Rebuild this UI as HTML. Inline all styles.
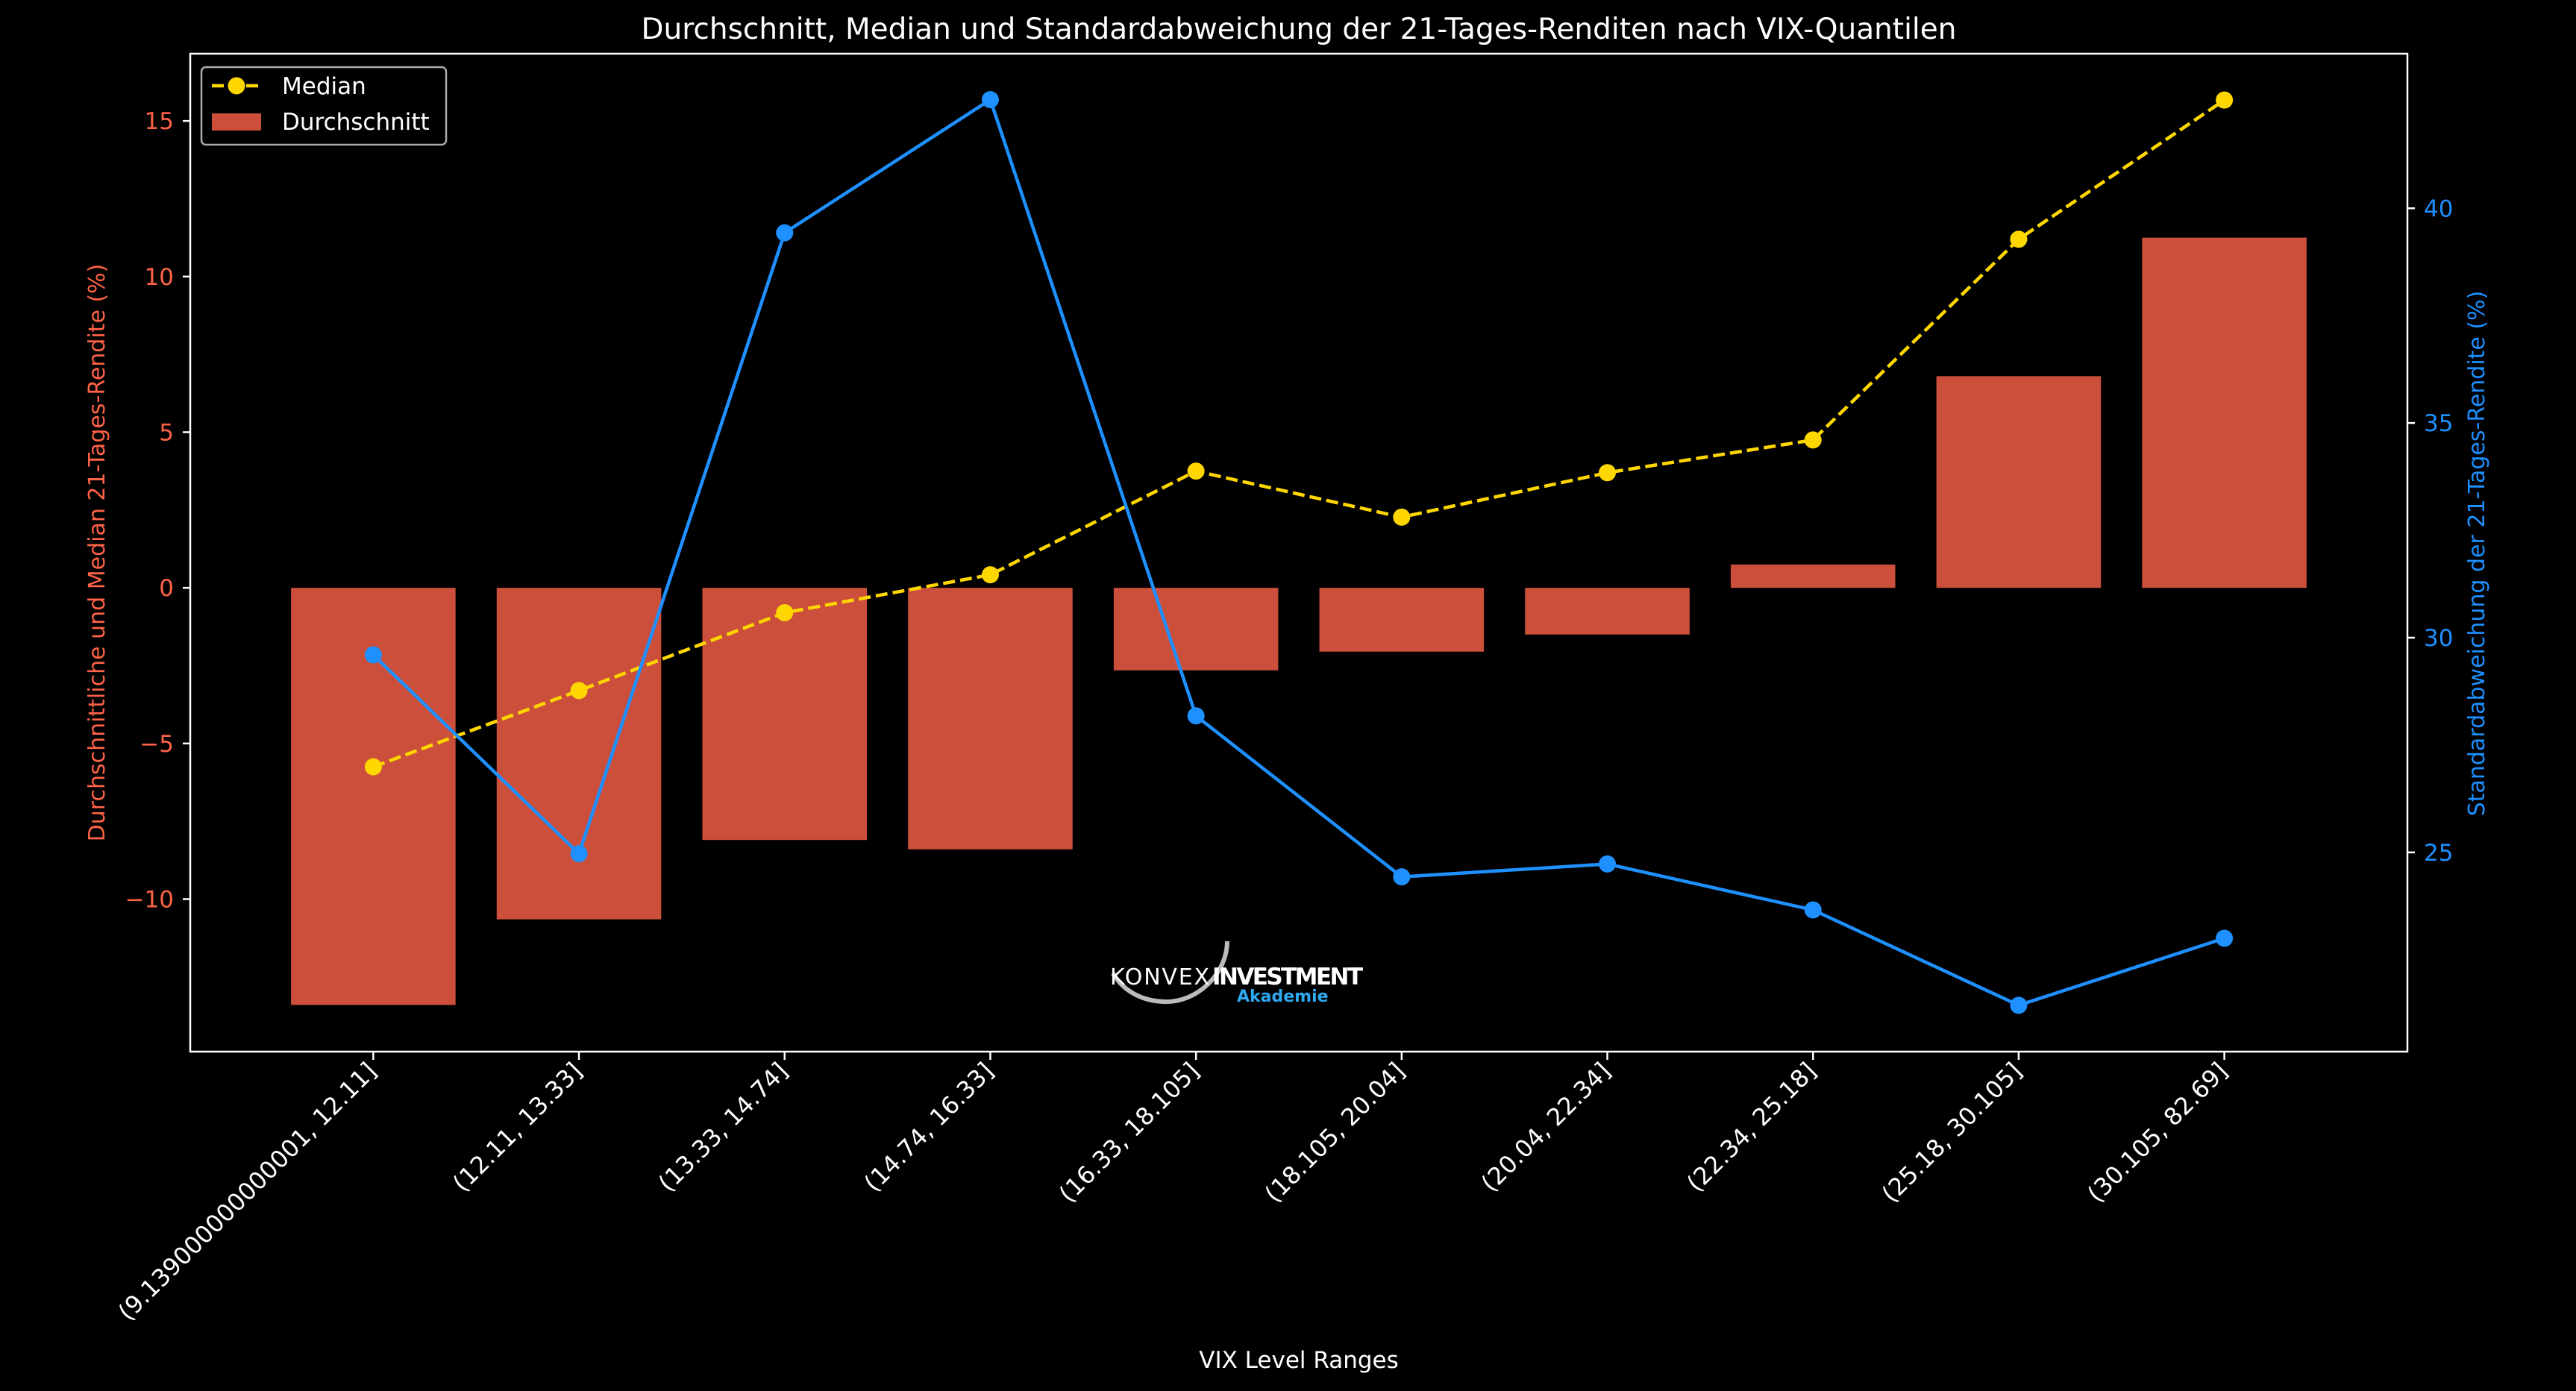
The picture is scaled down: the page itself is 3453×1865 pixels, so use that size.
<!DOCTYPE html>
<html><head><meta charset="utf-8"><style>
html,body{margin:0;padding:0;background:#000;width:3453px;height:1865px;overflow:hidden}
text{font-family:"DejaVu Sans","Liberation Sans",sans-serif}
</style></head><body>
<svg id="chart" width="3453" height="1865" xmlns="http://www.w3.org/2000/svg">
<rect width="3453" height="1865" fill="#000"/>
<text x="1741" y="52" font-size="39" fill="#fff" text-anchor="middle">Durchschnitt, Median und Standardabweichung der 21-Tages-Renditen nach VIX-Quantilen</text>
<g id="plot"></g>
<text transform="translate(140,741) rotate(-90)" font-size="30" fill="#ff6347" text-anchor="middle">Durchschnittliche und Median 21-Tages-Rendite (%)</text>
<text transform="translate(3330,742) rotate(-90)" font-size="30" fill="#1e90ff" text-anchor="middle">Standardabweichung der 21-Tages-Rendite (%)</text>
<text x="1741" y="1834" font-size="31" fill="#fff" text-anchor="middle">VIX Level Ranges</text>
<g>
<path d="M1645 1262 C1645 1305 1605 1345 1560 1343 C1530 1342 1505 1328 1492 1305" stroke="#bbb" stroke-width="6" fill="none"/>
<text x="1488" y="1320" font-size="30" fill="#fff" font-family="Liberation Sans" textLength="133">KONVEX</text>
<text x="1625" y="1320" font-size="31" fill="#fff" font-weight="bold" font-family="Liberation Sans" textLength="202">INVESTMENT</text>
<text x="1658" y="1343" font-size="22" fill="#2ea8f0" font-weight="bold" font-family="Liberation Sans">Akademie</text>
</g>
<g>
<rect x="270" y="90" width="328" height="104" rx="6" fill="#000" stroke="#aaa" stroke-width="2.5"/>
<line x1="284" y1="115" x2="350" y2="115" stroke="#ffd700" stroke-width="4.5" stroke-dasharray="16,7"/>
<circle cx="317" cy="115" r="11.5" fill="#ffd700"/>
<text x="378" y="126" font-size="31" fill="#fff">Median</text>
<rect x="284" y="152" width="66" height="23" fill="#cc4f3b"/>
<text x="378" y="174" font-size="31" fill="#fff">Durchschnitt</text>
</g>
</svg>
<script>
const categories=["(9.139000000000001, 12.11]","(12.11, 13.33]","(13.33, 14.74]","(14.74, 16.33]","(16.33, 18.105]","(18.105, 20.04]","(20.04, 22.34]","(22.34, 25.18]","(25.18, 30.105]","(30.105, 82.69]"];
const meanValues=[-13.4,-10.65,-8.1,-8.4,-2.65,-2.05,-1.5,0.75,6.8,11.25];
const medianValues=[-5.75,-3.3,-0.8,0.42,3.75,2.27,3.7,4.75,11.2,15.67];
const stdValues=[29.6,24.97,39.43,42.53,28.18,24.43,24.73,23.66,21.44,23.0];
const leftTicks=[-10,-5,0,5,10,15];
const rightTicks=[25,30,35,40];

const L=255,R=3227,T=72,B=1410;
const xMin=-0.89,xMax=9.89;
const yL0=-14.9,yL1=17.16,yR0=20.36,yR1=43.6;
const x=i=>L+(i-xMin)/(xMax-xMin)*(R-L);
const yl=v=>B-(v-yL0)/(yL1-yL0)*(B-T);
const yr=v=>B-(v-yR0)/(yR1-yR0)*(B-T);
const NS="http://www.w3.org/2000/svg";
const g=document.getElementById('plot');
function mk(tag,attrs,parent){const e=document.createElementNS(NS,tag);for(const k in attrs)e.setAttribute(k,attrs[k]);(parent||g).appendChild(e);return e;}
const bw=(x(1)-x(0))*0.8;
meanValues.forEach((v,i)=>{
 const r=mk('rect',{x:x(i)-bw/2,y:Math.min(yl(v),yl(0)),width:bw,height:Math.abs(yl(v)-yl(0)),fill:'#cc4f3b'});
 
 
});
const mp=mk('polyline',{points:medianValues.map((v,i)=>x(i)+','+yl(v)).join(' '),fill:'none',stroke:'#ffd700','stroke-width':4.5,'stroke-dasharray':'16,7'});


medianValues.forEach((v,i)=>{const c=mk('circle',{cx:x(i),cy:yl(v),r:11.5,fill:'#ffd700'});
 
 });
const sp=mk('polyline',{points:stdValues.map((v,i)=>x(i)+','+yr(v)).join(' '),fill:'none',stroke:'#1e90ff','stroke-width':4.5});


stdValues.forEach((v,i)=>{const c=mk('circle',{cx:x(i),cy:yr(v),r:11.5,fill:'#1e90ff'});
 
 });
const fr=mk('rect',{x:L,y:T,width:R-L,height:B-T,fill:'none',stroke:'#fff','stroke-width':2.5});


leftTicks.forEach(v=>{
 mk('line',{x1:L-10,x2:L,y1:yl(v),y2:yl(v),stroke:'#fff','stroke-width':2.5});
 const t=mk('text',{x:L-22,y:yl(v)+11,'font-size':31,fill:'#ff6347','text-anchor':'end'});
 t.textContent=v<0?'\u2212'+Math.abs(v):String(v);
 
 
});
rightTicks.forEach(v=>{
 mk('line',{x1:R,x2:R+10,y1:yr(v),y2:yr(v),stroke:'#fff','stroke-width':2.5});
 const t=mk('text',{x:R+22,y:yr(v)+11,'font-size':31,fill:'#1e90ff'});
 t.textContent=String(v);
 
 
});
categories.forEach((c,i)=>{
 mk('line',{x1:x(i),x2:x(i),y1:B,y2:B+11,stroke:'#fff','stroke-width':2.5});
 const t=mk('text',{transform:`translate(${x(i)+6},${B+28}) rotate(-45)`,'font-size':32,fill:'#fff','text-anchor':'end'});
 t.textContent=c;
 
 
});
</script>
</body></html>
